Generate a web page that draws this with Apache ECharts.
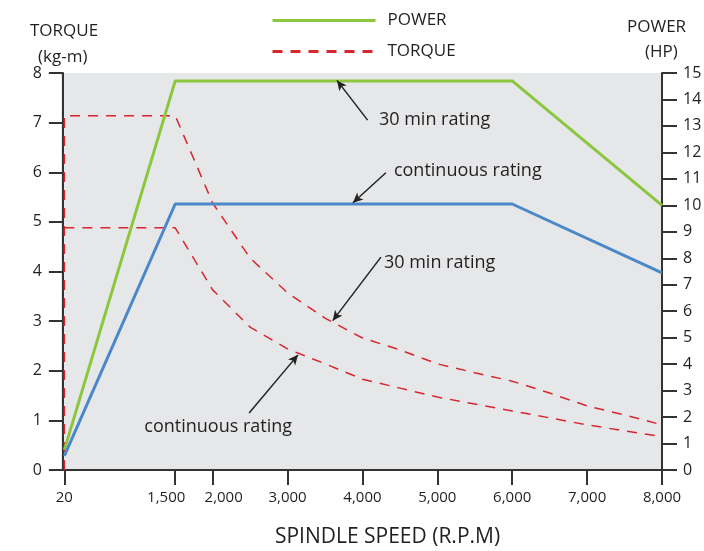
<!DOCTYPE html>
<html>
<head>
<meta charset="utf-8">
<script src="https://cdn.jsdelivr.net/npm/echarts@6/dist/echarts.min.js"></script>
<style>
html,body{margin:0;padding:0;background:#fff;}
#chart{width:704px;height:551px;}
</style>
</head>
<body>
<div id="chart"></div>
<script>
// ---- data ----
var speedTicks = [20, 1500, 2000, 3000, 4000, 5000, 6000, 7000, 8000];
var power30 = [[20, 0.76], [1500, 14.7], [6000, 14.7], [8000, 10.0]];
var powerCont = [[20, 0.53], [1500, 10.05], [6000, 10.05], [8000, 7.45]];
var torque30 = [[20, 0], [20, 7.14], [1500, 7.14], [2000, 5.38], [2500, 4.27], [3000, 3.57], [3500, 3.06],
  [4000, 2.66], [4500, 2.42], [5000, 2.14], [5500, 1.96], [6000, 1.79], [6500, 1.55], [7000, 1.29],
  [7500, 1.11], [8000, 0.91]];
var torqueCont = [[20, 4.88], [1500, 4.88], [2000, 3.63], [2500, 2.88], [3000, 2.44], [3500, 2.14],
  [4000, 1.83], [4500, 1.65], [5000, 1.47], [5500, 1.33], [6000, 1.19], [6500, 1.05], [7000, 0.91],
  [7500, 0.79], [8000, 0.67]];
// annotations: text anchor, arrow start, arrow end (data units)
var powerNotes = [
  {text: '30 min rating', at: [4220, 13.22], from: [4069, 13.22], to: [3660, 14.72]},
  {text: 'continuous rating', at: [4420, 11.3], from: [4313, 11.23], to: [3873, 10.1]}
];
var torqueNotes = [
  {text: '30 min rating', at: [4287, 4.17], from: [4247, 4.29], to: [3603, 3.01]},
  {text: 'continuous rating', at: [1087, 0.87], from: [2487, 1.15], to: [3140, 2.32]}
];

var FONT = '"Open Sans", "Noto Sans", sans-serif';
var TXT = '#231f20';
var AX = '#333333';

function marks(notes) {
  return {
    markLine: {
      silent: true,
      symbol: ['none', 'arrow'],
      symbolSize: [7, 10],
      lineStyle: {color: '#222', width: 1.5, type: 'solid'},
      label: {show: false},
      emphasis: {disabled: true},
      data: notes.map(function (n) { return [{coord: n.from}, {coord: n.to}]; })
    },
    markPoint: {
      silent: true,
      symbol: 'circle',
      symbolSize: 0,
      data: notes.map(function (n) {
        return {
          coord: n.at,
          label: {show: true, formatter: n.text, position: 'right', distance: 0,
            color: TXT, fontSize: 18, fontFamily: FONT}
        };
      })
    }
  };
}

var chart = echarts.init(document.getElementById('chart'), null, {renderer: 'canvas'});
var pm = marks(powerNotes), tm = marks(torqueNotes);
chart.setOption({
  animation: false,
  textStyle: {fontFamily: FONT, color: TXT},
  graphic: [
    {type: 'text', left: 30, top: 23, style: {text: 'TORQUE', fill: TXT, font: '17px ' + FONT}},
    {type: 'text', left: 38, top: 49, style: {text: '(kg-m)', fill: TXT, font: '17px ' + FONT}},
    {type: 'text', left: 627, top: 19, style: {text: 'POWER', fill: TXT, font: '17px ' + FONT}},
    {type: 'text', left: 645, top: 44, style: {text: '(HP)', fill: TXT, font: '17px ' + FONT}}
  ],
  legend: {
    orient: 'vertical',
    left: 266,
    top: 7,
    itemWidth: 103,
    itemHeight: 14,
    itemGap: 14,
    textStyle: {fontSize: 17, color: TXT, fontFamily: FONT, padding: [0, 0, 0, 7]},
    data: ['POWER', 'TORQUE'],
    itemStyle: {opacity: 0},
    lineStyle: {width: 3},
    selectedMode: false
  },
  grid: {left: 61, right: 42, top: 73, bottom: 81, show: true, backgroundColor: '#e6e7e8', borderWidth: 0,
    containLabel: false, outerBoundsMode: 'none'},
  xAxis: {
    type: 'value', min: -25, max: 8000,
    name: 'SPINDLE SPEED (R.P.M)', nameLocation: 'middle', nameGap: 57,
    nameTextStyle: {fontSize: 21, color: TXT, fontFamily: FONT, padding: [0, 0, 0, 52]},
    axisLine: {show: true, lineStyle: {color: AX, width: 2}},
    axisTick: {show: true, length: 15, lineStyle: {color: AX, width: 2}, customValues: speedTicks},
    axisLabel: {fontSize: 15, color: TXT, margin: 20, customValues: speedTicks, hideOverlap: false,
      formatter: function (v) {
        var s = Number(v).toLocaleString('en-US');
        if (v === 1500) return '{l|' + s + '}';
        if (v === 2000) return '{r|' + s + '}';
        return s;
      },
      rich: {
        l: {fontSize: 15, color: TXT, fontFamily: FONT, padding: [0, 18, 0, 0]},
        r: {fontSize: 15, color: TXT, fontFamily: FONT, padding: [0, 0, 0, 22]}
      }},
    splitLine: {show: false}
  },
  yAxis: [{
    type: 'value', min: 0, max: 8, interval: 1, position: 'left',
    axisLine: {show: true, lineStyle: {color: AX, width: 2}},
    axisTick: {show: true, length: 14, lineStyle: {color: AX, width: 2}},
    axisLabel: {fontSize: 16, color: TXT, margin: 19},
    splitLine: {show: false}
  }, {
    type: 'value', min: 0, max: 15, interval: 1, position: 'right',
    axisLine: {show: true, lineStyle: {color: AX, width: 2}},
    axisTick: {show: true, length: 15, lineStyle: {color: AX, width: 2}},
    axisLabel: {fontSize: 16, color: TXT, margin: 21},
    splitLine: {show: false}
  }],
  series: [{
    name: 'POWER', type: 'line', yAxisIndex: 1, data: power30, symbol: 'none',
    lineStyle: {color: '#8cc63f', width: 3}, itemStyle: {color: '#8cc63f'}, z: 3,
    markLine: pm.markLine, markPoint: pm.markPoint
  }, {
    name: 'POWER continuous', type: 'line', yAxisIndex: 1, data: powerCont, symbol: 'none',
    lineStyle: {color: '#4a88c9', width: 3}, itemStyle: {color: '#4a88c9'}, z: 3
  }, {
    name: 'TORQUE', type: 'line', yAxisIndex: 0, data: torque30, symbol: 'none',
    lineStyle: {color: '#d7262f', width: 1.5, type: [10, 8]}, itemStyle: {color: '#d7262f'}, z: 2,
    markLine: tm.markLine, markPoint: tm.markPoint
  }, {
    name: 'TORQUE continuous', type: 'line', yAxisIndex: 0, data: torqueCont, symbol: 'none',
    lineStyle: {color: '#d7262f', width: 1.5, type: [10, 8]}, itemStyle: {color: '#d7262f'}, z: 2
  }]
});
</script>
</body>
</html>
